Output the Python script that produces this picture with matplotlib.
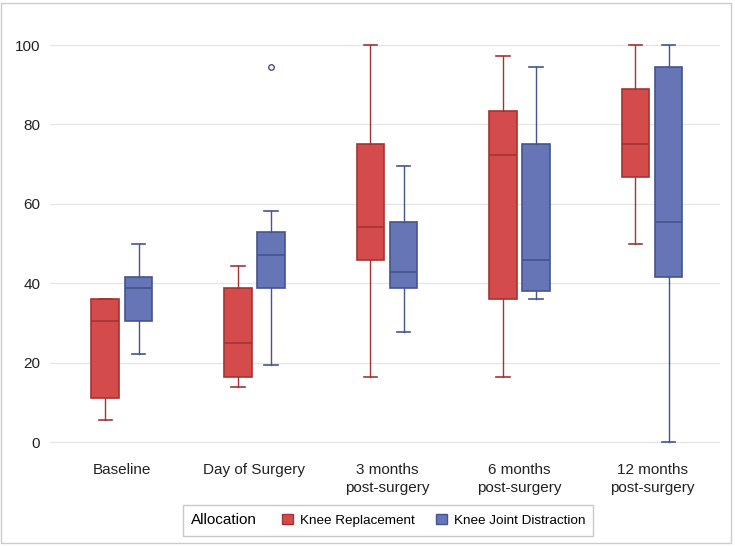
import matplotlib
matplotlib.use("Agg")
import matplotlib.pyplot as plt
from matplotlib.patches import Patch, Rectangle
from matplotlib.offsetbox import HPacker

plt.rcParams['font.family'] = ['Liberation Sans', 'DejaVu Sans']

categories = ["Baseline", "Day of Surgery", "3 months\npost-surgery",
              "6 months\npost-surgery", "12 months\npost-surgery"]
groups = ["Knee Replacement", "Knee Joint Distraction"]

# five-number summaries per category: (min whisker, q1, median, q3, max whisker)
kr_low = [5.5, 13.9, 16.5, 16.5, 50.0]
kr_q1 = [11.1, 16.5, 45.8, 36.1, 66.7]
kr_med = [30.5, 24.9, 54.2, 72.2, 75.0]
kr_q3 = [36.1, 38.9, 75.0, 83.4, 88.8]
kr_high = [36.1, 44.4, 100.0, 97.2, 100.0]
kr_out = [[], [], [], [], []]

kjd_low = [22.2, 19.4, 27.7, 36.1, 0.0]
kjd_q1 = [30.5, 38.9, 38.9, 38.0, 41.6]
kjd_med = [38.9, 47.1, 42.8, 45.8, 55.5]
kjd_q3 = [41.6, 52.9, 55.5, 75.0, 94.4]
kjd_high = [49.9, 58.2, 69.4, 94.4, 100.0]
kjd_out = [[], [94.4], [], [], []]

yticks = [0, 20, 40, 60, 80, 100]

fill_colors = ["#D44B4B", "#6675B5"]
line_colors = ["#A53333", "#44548F"]

W, H = 735, 546
fig = plt.figure(figsize=(W / 100, H / 100), dpi=100)
ax = fig.add_axes([50 / W, 1 - 455 / H, 670 / W, 430 / H])

def stats(low, q1, med, q3, high, out):
    return [dict(whislo=a, q1=b, med=c, q3=d, whishi=e, fliers=f)
            for a, b, c, d, e, f in zip(low, q1, med, q3, high, out)]

series = [stats(kr_low, kr_q1, kr_med, kr_q3, kr_high, kr_out),
          stats(kjd_low, kjd_q1, kjd_med, kjd_q3, kjd_high, kjd_out)]
offsets = [-0.125, 0.125]
for s, off, fc, lc in zip(series, offsets, fill_colors, line_colors):
    pos = [i + off for i in range(len(categories))]
    ax.bxp(s, positions=pos, widths=0.21, patch_artist=True, manage_ticks=False,
           capwidths=0.1,
           boxprops=dict(facecolor=fc, edgecolor=lc, linewidth=1.2),
           medianprops=dict(color=lc, linewidth=1.2),
           whiskerprops=dict(color=lc, linewidth=1.0),
           capprops=dict(color=lc, linewidth=1.2),
           flierprops=dict(marker='o', markersize=4, markerfacecolor='none',
                           markeredgecolor=lc, markeredgewidth=1.0),
           zorder=3)

ax.set_xlim(-0.543, 4.513)
ax.set_ylim(-3.27, 105.04)
ax.set_yticks(yticks)
ax.set_yticklabels([str(v) for v in yticks], fontsize=11, color="#222222")
ax.set_xticks(range(len(categories)))
ax.set_xticklabels(categories, fontsize=11, color="#222222")
for t in ax.get_xticklabels():
    t.set_linespacing(1.3)
ax.tick_params(axis='both', length=0)
ax.tick_params(axis='y', pad=7)
ax.tick_params(axis='x', pad=6)
for sp in ax.spines.values():
    sp.set_visible(False)
ax.grid(axis='y', color="#E6E6E6", linewidth=1.0, zorder=0)
ax.set_axisbelow(True)

handles = [Patch(facecolor=fc, edgecolor=lc, linewidth=1.0)
           for fc, lc in zip(fill_colors, line_colors)]
leg = fig.legend(handles, groups, loc='center', bbox_to_anchor=(388 / W, 1 - 520.5 / H),
                 ncol=2, frameon=True, fontsize=9.7, title="Allocation",
                 title_fontsize=11, handlelength=0.8, handleheight=0.8,
                 handletextpad=0.5, columnspacing=1.6, borderpad=0.3,
                 fancybox=False, edgecolor="#BBBBBB")
fs = leg._fontsize
try:
    box = HPacker(pad=0.6 * fs, sep=1.9 * fs, align="center",
                  children=[leg._legend_title_box, leg._legend_handle_box])
    box.set_figure(fig)
    box.set_offset(leg._findoffset)
    leg._legend_box = box
except Exception:
    pass

fig.patches.append(Rectangle((1 / W, 3 / H), 730 / W, 540 / H, transform=fig.transFigure,
                             fill=False, edgecolor="#CCCCCC", linewidth=1.0))

fig.savefig("out.png", dpi=100)
